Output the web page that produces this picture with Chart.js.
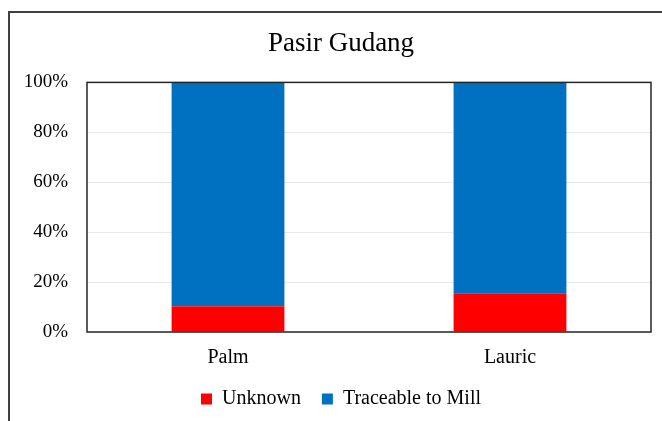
<!DOCTYPE html>
<html lang="en">
<head>
    <meta charset="UTF-8">
    <title>Pasir Gudang</title>
    <style>
        html, body { margin: 0; padding: 0; background: #fff; }
        .chart-wrap { position: relative; width: 662px; height: 421px; overflow: hidden; }
        .chart-frame { position: absolute; left: 8px; top: 11px; width: 700px; height: 450px; border-top: 2px solid #404040; border-left: 2px solid #404040; }
        canvas { position: absolute; left: 0; top: 0; }
    </style>
</head>
<body>
    <div class="chart-wrap">
        <div class="chart-frame"></div>
        <canvas id="traceChart" width="662" height="421"></canvas>
    </div>
    <script src="https://cdn.jsdelivr.net/npm/chart.js@4"></script>
    <script>
        const categories = ['Palm', 'Lauric'];
        const unknownShare = [10.3, 15.5];
        const traceableShare = [89.7, 84.5];
        const yTicks = [0, 20, 40, 60, 80, 100];

        const serif = '"Liberation Serif", "Times New Roman", serif';

        // plot frame (top + right edges, like the Excel plot area border)
        const plotFrame = {
            id: 'plotFrame',
            afterLayout(chart) {
                // title and legend are centred on the outer frame, not on the canvas
                chart.titleBlock.left += 31;
                chart.legend.left += 31;
            },
            afterDatasetsDraw(chart) {
                const a = chart.chartArea;
                const c = chart.ctx;
                c.save();
                c.strokeStyle = '#262626';
                c.lineWidth = 1.5;
                c.strokeRect(a.left, a.top, a.right - a.left, a.bottom - a.top);
                c.restore();
            }
        };

        new Chart(document.getElementById('traceChart'), {
            type: 'bar',
            data: {
                labels: categories,
                datasets: [
                    { label: 'Unknown', data: unknownShare, backgroundColor: '#FF0000' },
                    { label: 'Traceable to Mill', data: traceableShare, backgroundColor: '#0070C0' }
                ]
            },
            options: {
                responsive: false,
                animation: false,
                layout: { padding: { left: 0, right: 11, top: 0, bottom: 2 } },
                datasets: { bar: { categoryPercentage: 1, barPercentage: 0.4 } },
                plugins: {
                    title: {
                        display: true,
                        text: 'Pasir Gudang',
                        color: '#000',
                        font: { family: serif, size: 27, weight: 'normal' },
                        padding: { top: 28, bottom: 22 }
                    },
                    legend: {
                        position: 'bottom',
                        labels: {
                            color: '#000',
                            font: { family: serif, size: 20 },
                            boxWidth: 11,
                            boxHeight: 11,
                            padding: 21
                        }
                    },
                    tooltip: { enabled: false }
                },
                scales: {
                    x: {
                        stacked: true,
                        grid: { display: false, drawTicks: false },
                        border: { display: false },
                        ticks: { color: '#000', font: { family: serif, size: 20 }, padding: 14 },
                        afterFit(scale) { scale.height = 36; }
                    },
                    y: {
                        stacked: true,
                        min: 0,
                        max: 100,
                        afterBuildTicks(scale) { scale.ticks = yTicks.map(v => ({ value: v })); },
                        grid: { color: '#e8e8e8', drawTicks: false },
                        border: { display: false },
                        ticks: {
                            color: '#000',
                            font: { family: serif, size: 19 },
                            padding: 19,
                            callback: v => v + '%'
                        },
                        afterFit(scale) { scale.width = 87; }
                    }
                }
            },
            plugins: [plotFrame]
        });
    </script>
</body>
</html>
